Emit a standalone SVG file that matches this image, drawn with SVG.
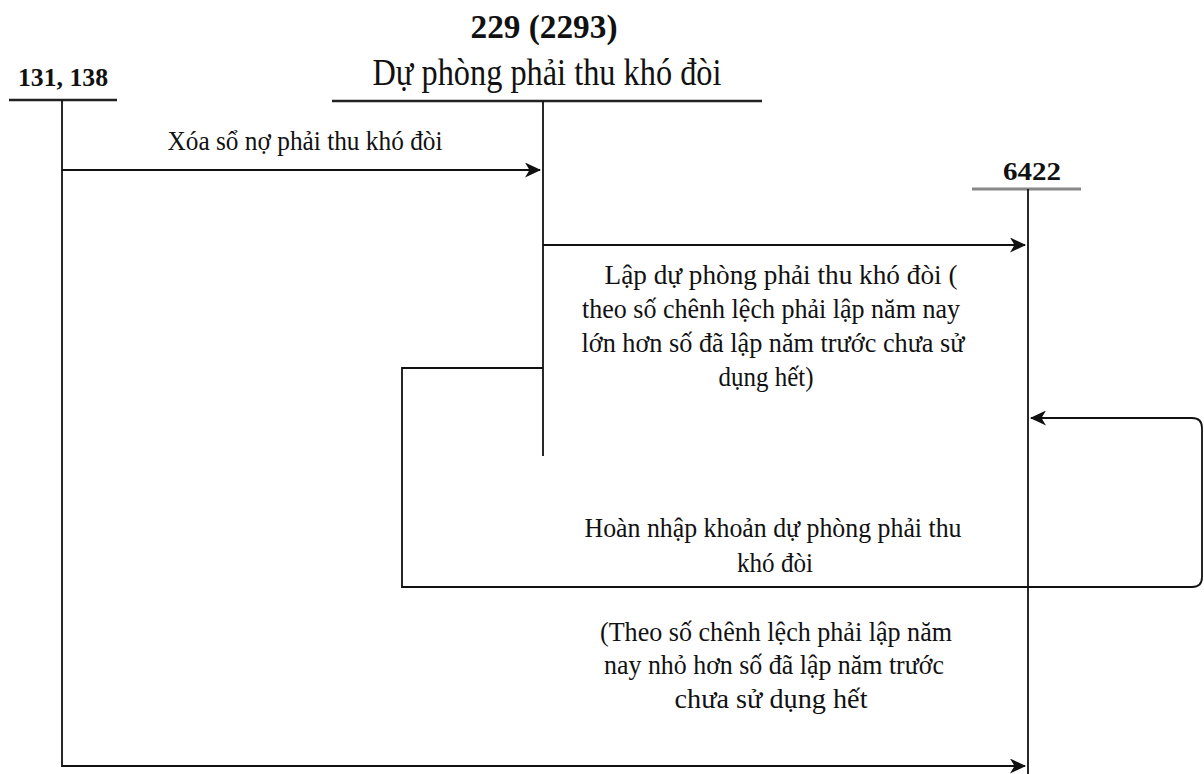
<svg xmlns="http://www.w3.org/2000/svg" width="1204" height="774" viewBox="0 0 1204 774">
<style>
.t{font-family:"Liberation Serif","Times New Roman",serif;fill:#111;}
.b{font-weight:bold;}
.ln{stroke:#111;stroke-width:1.8;fill:none;}
.hd{stroke:#222;stroke-width:2.4;fill:none;}
.lb{font-size:27px;}
</style>
<defs>
<marker id="arr" markerWidth="17" markerHeight="15" refX="15" refY="7.5" orient="auto" markerUnits="userSpaceOnUse">
<path d="M0,0 L16,7.5 L0,15 L4.5,7.5 z" fill="#111"/>
</marker>
</defs>
<rect width="1204" height="774" fill="#fff"/>
<g id="acc-131">
<text class="t b" x="63" y="86" font-size="26" text-anchor="middle" textLength="90" lengthAdjust="spacingAndGlyphs">131, 138</text>
<line class="hd" x1="9" y1="100" x2="117" y2="100"/>
<line class="ln" x1="62" y1="100" x2="62" y2="767"/>
</g>
<g id="acc-229">
<text class="t b" x="544" y="38" font-size="34" text-anchor="middle" textLength="147" lengthAdjust="spacingAndGlyphs">229 (2293)</text>
<text class="t" x="547" y="85" font-size="38" text-anchor="middle" textLength="349" lengthAdjust="spacingAndGlyphs">Dự phòng phải thu khó đòi</text>
<line class="hd" x1="332" y1="101" x2="762" y2="101"/>
<line class="ln" x1="543" y1="101" x2="543" y2="456"/>
</g>
<g id="acc-6422">
<text class="t b" x="1032" y="180" font-size="25" text-anchor="middle" textLength="58" lengthAdjust="spacingAndGlyphs">6422</text>
<line x1="972" y1="189" x2="1081" y2="189" stroke="#888" stroke-width="2.8"/>
<line class="ln" x1="1028" y1="189" x2="1028" y2="774"/>
</g>
<g id="connectors">
<line class="ln" x1="62" y1="170" x2="540" y2="170" marker-end="url(#arr)"/>
<line class="ln" x1="543" y1="245" x2="1025" y2="245" marker-end="url(#arr)"/>
<path class="ln" d="M543,368 H402 V587 H1192 Q1202,587 1202,577 V428 Q1202,418 1192,418 H1031" marker-end="url(#arr)"/>
<line class="ln" x1="62" y1="766" x2="1025" y2="766" marker-end="url(#arr)"/>
</g>
<g id="labels">
<text class="t lb" x="305" y="150" text-anchor="middle" textLength="275" lengthAdjust="spacingAndGlyphs">Xóa sổ nợ phải thu khó đòi</text>
<text class="t lb" x="781" y="284" text-anchor="middle" textLength="353" lengthAdjust="spacingAndGlyphs">Lập dự phòng phải thu khó đòi (</text>
<text class="t lb" x="771" y="318" text-anchor="middle" textLength="378" lengthAdjust="spacingAndGlyphs">theo số chênh lệch phải lập năm nay</text>
<text class="t lb" x="773" y="352" text-anchor="middle" textLength="383" lengthAdjust="spacingAndGlyphs">lớn hơn số đã lập năm trước chưa sử</text>
<text class="t lb" x="766" y="386" text-anchor="middle" textLength="95" lengthAdjust="spacingAndGlyphs">dụng hết)</text>
<text class="t lb" x="773" y="537" text-anchor="middle" textLength="377" lengthAdjust="spacingAndGlyphs">Hoàn nhập khoản dự phòng phải thu</text>
<text class="t lb" x="775" y="572" text-anchor="middle" textLength="76" lengthAdjust="spacingAndGlyphs">khó đòi</text>
<text class="t lb" x="776" y="641" text-anchor="middle" textLength="352" lengthAdjust="spacingAndGlyphs">(Theo số chênh lệch phải lập năm</text>
<text class="t lb" x="774" y="674" text-anchor="middle" textLength="340" lengthAdjust="spacingAndGlyphs">nay nhỏ hơn số đã lập năm trước</text>
<text class="t lb" x="771" y="708" text-anchor="middle" textLength="193" lengthAdjust="spacingAndGlyphs">chưa sử dụng hết</text>
</g>
</svg>
